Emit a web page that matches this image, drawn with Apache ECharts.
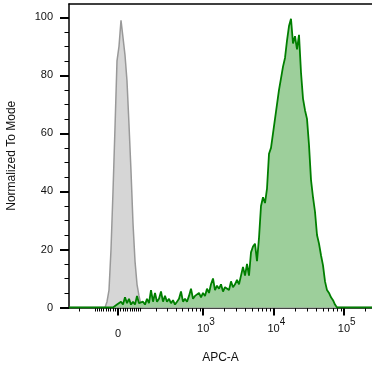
<!DOCTYPE html>
<html>
<head>
<meta charset="utf-8">
<script src="https://cdn.jsdelivr.net/npm/echarts@6/dist/echarts.min.js"></script>
<style>
  html, body { margin: 0; padding: 0; background: #fff; }
  #chart { width: 372px; height: 372px; }
</style>
</head>
<body>
<div id="chart"></div>
<script>
// ---- Data (histogram heights per display channel, Normalized To Mode) ----
// Unstained / isotype control (gray), starting at channel GRAY_FIRST_CHANNEL
const GRAY_FIRST_CHANNEL = 17;
const grayHeights = [0, 0, 2, 6, 20, 40, 62, 85, 90, 99, 93, 87, 78, 63, 47, 29, 16, 8, 4, 1, 0];

// Stained sample (green), starting at channel GREEN_FIRST_CHANNEL
const GREEN_FIRST_CHANNEL = 22;
const greenHeights = [
  0, 0.5, 1, 0.5, 2, 1, 3.5, 1.5, 3, 1, 2, 1, 4, 1.5, 1, 2, 1, 3, 1.5, 6,
  2, 5, 2, 3, 5.5, 2, 4, 2, 3, 1.5, 2.5, 1, 2, 3, 5.5, 2, 3, 2, 4, 6.5,
  3, 4, 3.5, 5, 3.5, 5, 4, 6.5, 5, 8, 10, 6, 7.5, 6.5, 8, 5.5, 7, 7.5, 6, 9,
  7, 8, 9.5, 8, 11, 14, 11, 15, 11, 19, 21, 22, 16, 24, 35, 38, 36, 41, 53, 55,
  60, 65, 70, 75, 79, 83, 86, 92, 97, 99.5, 91, 93.5, 89, 94, 81, 72, 68, 65, 56, 44,
  38, 33, 25, 22, 18, 14.5, 9, 6, 5, 3.5, 2.5, 1, 0
];

// Axis ticks / labels (APC-A, biexponential display)
const majorTickValues = [0, 1e3, 1e4, 1e5];
const majorTickLabels = ['{z|0}', '{b|10}{s|3}', '{b|10}{s|4}', '{b|10}{s|5}'];
const minorTickValues = [
  -200, -100, -90, -80, -70, -60, -50, -40, -30, -20, -10,
  10, 20, 30, 40, 50, 60, 70, 80, 90,
  100, 200, 300, 400, 500, 600, 700, 800, 900,
  2000, 3000, 4000, 5000, 6000, 7000, 8000, 9000,
  20000, 30000, 40000, 50000, 60000, 70000, 80000, 90000,
  200000
];
const yLabelValues = [0, 20, 40, 60, 80, 100];
const yMinorValues = [5, 10, 15, 25, 30, 35, 45, 50, 55, 65, 70, 75, 85, 90, 95];

// ---- Scale (biexponential-like display transform: value -> channel) ----
const CH_MAX = 151.5, CH_ZERO = 24.5, CH_DECADE = 15.3, LIN_WIDTH = 124;
function toChannel(v) { return CH_ZERO + CH_DECADE * Math.asinh(v / LIN_WIDTH); }

function seriesData(first, heights) {
  const out = [];
  // histogram is zero outside of the listed channels (baseline)
  for (let c = 0; c < first; c++) out.push([c, 0]);
  heights.forEach((h, k) => out.push([first + k, h]));
  for (let c = first + heights.length; c <= Math.ceil(CH_MAX); c++) out.push([c, 0]);
  return out;
}

const majorCh = majorTickValues.map(toChannel);
const minorCh = minorTickValues.map(toChannel).filter(c => c >= 0 && c <= CH_MAX);

const FONT = 'Liberation Sans';
const chart = echarts.init(document.getElementById('chart'), null, { renderer: 'canvas' });
chart.setOption({
  animation: false,
  backgroundColor: '#fff',
  grid: { left: 69, right: 0, top: 4, bottom: 64.5, containLabel: false, outerBoundsMode: 'none' },
  xAxis: [
    {
      type: 'value', position: 'bottom', min: 0, max: CH_MAX,
      name: 'APC-A', nameLocation: 'middle', nameGap: 44,
      nameTextStyle: { fontFamily: FONT, fontSize: 12, color: '#111' },
      axisLine: { show: true, onZero: false, lineStyle: { color: '#000', width: 1.5 } },
      axisTick: { show: true, customValues: majorCh, length: 8, lineStyle: { color: '#000', width: 2 } },
      axisLabel: {
        show: true, customValues: majorCh, margin: 7, verticalAlign: 'top',
        fontFamily: FONT, fontSize: 11, color: '#111',
        formatter: function (val) {
          let best = 0, d = Infinity;
          majorCh.forEach((c, i) => { const dd = Math.abs(c - val); if (dd < d) { d = dd; best = i; } });
          return majorTickLabels[best];
        },
        rich: {
          z: { fontFamily: FONT, fontSize: 11, color: '#111', lineHeight: 12, padding: [13.5, 0, 0, 0], verticalAlign: 'top' },
          b: { fontFamily: FONT, fontSize: 11, color: '#111', lineHeight: 12, padding: [8.5, 0, 0, 5.5], verticalAlign: 'top' },
          s: { fontFamily: FONT, fontSize: 10, color: '#111', lineHeight: 12, padding: [2.5, 0, 0, 0], verticalAlign: 'top' }
        }
      },
      splitLine: { show: false }
    },
    {
      type: 'value', position: 'bottom', min: 0, max: CH_MAX,
      axisLine: { show: false, onZero: false },
      axisTick: { show: true, customValues: minorCh, length: 4, lineStyle: { color: '#000', width: 1 } },
      axisLabel: { show: false },
      splitLine: { show: false }
    },
    {
      type: 'value', position: 'top', min: 0, max: CH_MAX,
      axisLine: { show: true, onZero: false, lineStyle: { color: '#000', width: 1.5 } },
      axisTick: { show: false }, axisLabel: { show: false }, splitLine: { show: false }
    }
  ],
  yAxis: [
    {
      type: 'value', position: 'left', min: 0, max: 104.6,
      name: 'Normalized To Mode', nameLocation: 'middle', nameGap: 51,
      nameTextStyle: { fontFamily: FONT, fontSize: 12, color: '#111' },
      axisLine: { show: true, onZero: false, lineStyle: { color: '#000', width: 1.5 } },
      axisTick: { show: true, customValues: yLabelValues, length: 9, lineStyle: { color: '#000', width: 2 } },
      axisLabel: { show: true, customValues: yLabelValues, margin: 16, fontFamily: FONT, fontSize: 11, color: '#111' },
      splitLine: { show: false }
    },
    {
      type: 'value', position: 'left', min: 0, max: 104.6,
      axisLine: { show: false, onZero: false },
      axisTick: { show: true, customValues: yMinorValues, length: 4.5, lineStyle: { color: '#000', width: 1 } },
      axisLabel: { show: false },
      splitLine: { show: false }
    }
  ],
  series: [
    {
      type: 'line', xAxisIndex: 0, yAxisIndex: 0,
      data: seriesData(GRAY_FIRST_CHANNEL, grayHeights),
      showSymbol: false, symbol: 'none', smooth: false,
      lineStyle: { color: '#999999', width: 1.5 },
      areaStyle: { color: '#d6d6d6', opacity: 1 },
      z: 2
    },
    {
      type: 'line', xAxisIndex: 0, yAxisIndex: 0,
      data: seriesData(GREEN_FIRST_CHANNEL, greenHeights),
      showSymbol: false, symbol: 'none', smooth: false,
      lineStyle: { color: '#007f00', width: 1.8 },
      areaStyle: { color: '#9dcf9b', opacity: 1 },
      z: 3
    }
  ]
});
</script>
</body>
</html>
